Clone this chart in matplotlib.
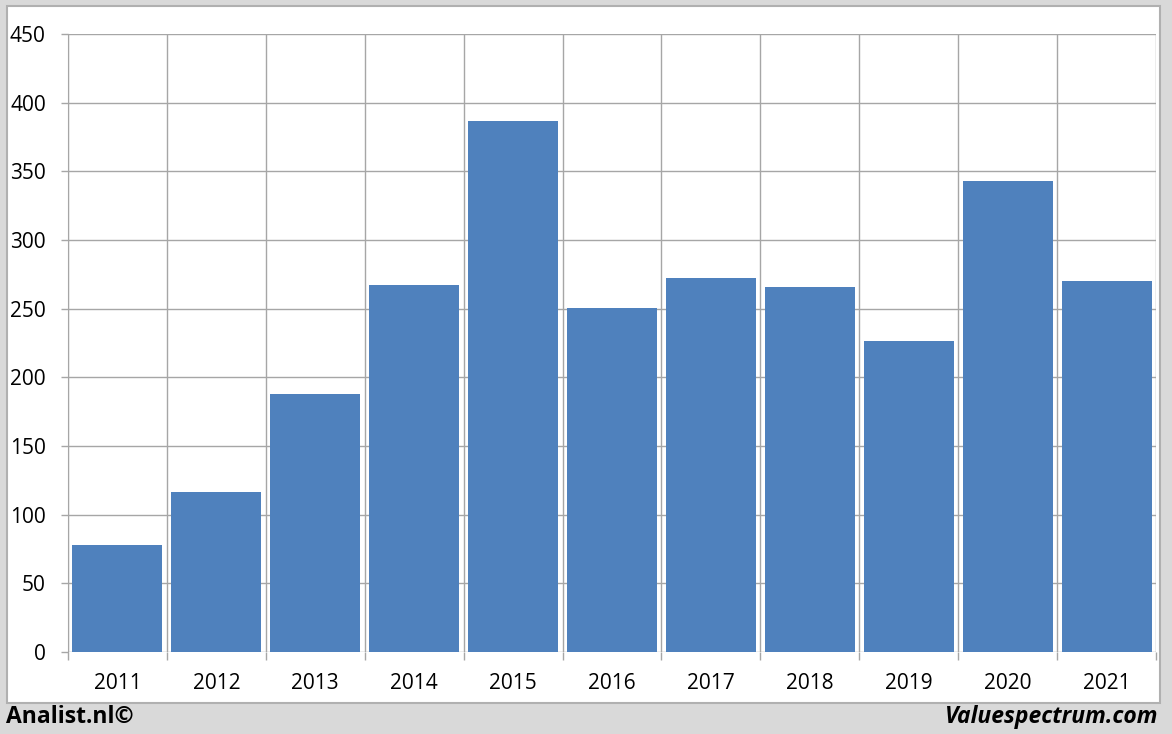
import numpy as np
import matplotlib.pyplot as plt
from matplotlib.patches import Rectangle

# --- Dati ---
years = ["2011", "2012", "2013", "2014", "2015", "2016",
         "2017", "2018", "2019", "2020", "2021"]
values = [78, 116.5, 188, 267.5, 387, 250.5, 272, 266, 226.5, 343, 270.5]
y_ticks = [0, 50, 100, 150, 200, 250, 300, 350, 400, 450]

bar_color = "#4f81bd"
grid_color = "#a6a6a6"

plt.rcParams["font.family"] = ["Open Sans", "DejaVu Sans"]

fig = plt.figure(figsize=(11.72, 7.34), dpi=100, facecolor="#d9d9d9")

# pannello bianco (dietro agli assi)
panel = Rectangle((7 / 1172, 1 - 703 / 734), (1160 - 7) / 1172, (703 - 6) / 734,
                  transform=fig.transFigure, facecolor="white",
                  edgecolor="#b0b0b0", linewidth=1.5, zorder=-10)
fig.patches.append(panel)

ax = fig.add_axes([68 / 1172, 1 - 652 / 734, (1156 - 68) / 1172, (652 - 34) / 734])
ax.set_zorder(1)
ax.set_facecolor("white")

x = np.arange(len(years))
ax.bar(x, values, width=0.91, color=bar_color, zorder=3)

ax.set_xlim(-0.5, len(years) - 0.5)
ax.set_ylim(0, 450)

# griglia
ax.set_yticks(y_ticks)
ax.set_xticks(x)
ax.set_xticklabels(years)
ax.set_xticks(np.arange(len(years) + 1) - 0.5, minor=True)
ax.grid(axis="y", which="major", color=grid_color, linewidth=1, zorder=0)
ax.grid(axis="x", which="minor", color=grid_color, linewidth=1, zorder=0)

ax.tick_params(axis="x", which="major", length=0, pad=15, labelsize=15)
ax.tick_params(axis="x", which="minor", length=5.5, color=grid_color, width=1)
ax.tick_params(axis="y", length=5, color=grid_color, width=1, labelsize=15, pad=11)

for s in ["top", "right", "bottom"]:
    ax.spines[s].set_visible(False)
ax.spines["left"].set_color(grid_color)

# piè di pagina
fig.text(6 / 1172, 1 - 717 / 734, "Analist.nl©", fontsize=16.5, fontweight="bold",
         va="center", ha="left")
fig.text(1158 / 1172, 1 - 717 / 734, "Valuespectrum.com", fontsize=16.5,
         fontweight="bold", style="italic", va="center", ha="right")

fig.savefig("out.png", dpi=100, facecolor=fig.get_facecolor())
